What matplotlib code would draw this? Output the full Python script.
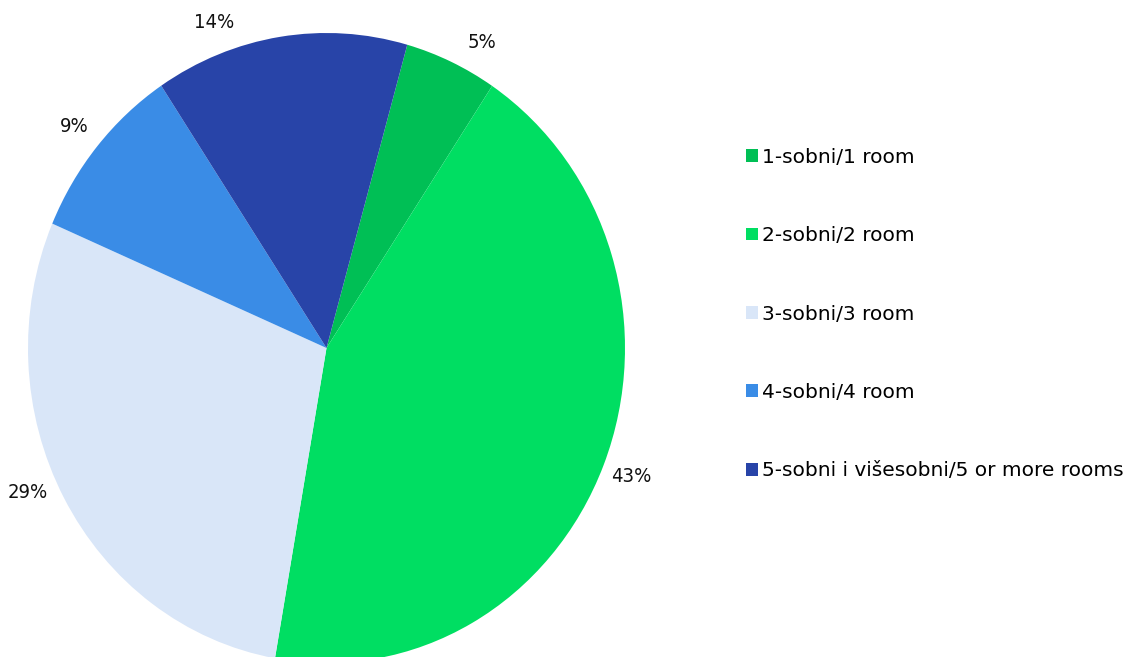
import numpy as np
import matplotlib.pyplot as plt
from matplotlib import font_manager

# room types and shares (%)
labels = ['1-sobni/1 room', '2-sobni/2 room', '3-sobni/3 room',
          '4-sobni/4 room', '5-sobni i višesobni/5 or more rooms']
shares = [5.0, 43.4, 28.7, 9.2, 13.7]
colors = ['#00BF55', '#00DE62', '#D9E6F8', '#3A8CE6', '#2844A8']

plt.rcParams['font.family'] = ['DejaVu Sans']
names = set(f.name for f in font_manager.fontManager.ttflist)
if 'Liberation Sans Narrow' in names:
    pct_font = dict(family='Liberation Sans Narrow', fontsize=16)
else:
    pct_font = dict(family='DejaVu Sans', fontstretch='condensed', fontsize=14.5)

fig = plt.figure(figsize=(11.25, 6.57), dpi=100)
# the pie is a little taller than wide in the reference
ax = fig.add_axes([28 / 1125, -6 / 657, 597 / 1125, 630 / 657])

wedges, _ = ax.pie(shares, colors=colors, startangle=74.3, counterclock=False)
ax.set_xlim(-1, 1)
ax.set_ylim(-1, 1)
ax.set_aspect('auto')
ax.axis('off')

# percentage labels just outside each slice (the excel layout nudges some a bit)
nudge = [-3.5, 0, -3.8, 0, 11]
for w, s, d in zip(wedges, shares, nudge):
    ang = np.deg2rad((w.theta1 + w.theta2) / 2 + d)
    r = 1.1
    ax.text(r * np.cos(ang), r * np.sin(ang), '%.0f%%' % s, ha='center', va='center',
            color='#111111', **pct_font)

fig.legend(wedges, labels, loc='center left', bbox_to_anchor=(746 / 1125, 1 - 314 / 657),
           frameon=False, fontsize=14.5, handlelength=0.6, handleheight=0.6,
           handletextpad=0.2, labelspacing=2.95, borderaxespad=0, borderpad=0)

fig.savefig('out.png', dpi=100)
